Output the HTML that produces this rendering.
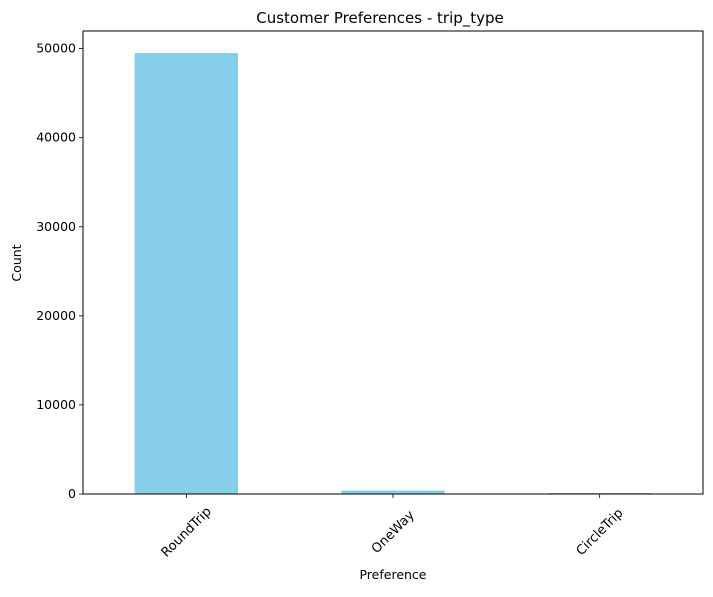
<!DOCTYPE html>
<html><head><meta charset="utf-8"><style>
body{margin:0;background:#fff;}
svg text{font-family:"DejaVu Sans","Liberation Sans",sans-serif;fill:#000;}
</style></head><body>
<svg id="chart" width="713" height="592" xmlns="http://www.w3.org/2000/svg">
<rect width="713" height="592" fill="#fff"/>
<text x="380" y="23" font-size="15" text-anchor="middle">Customer Preferences - trip_type</text>
<g id="bars"></g><g id="axes"></g>
<text x="393" y="579" font-size="12.5" text-anchor="middle">Preference</text>
<text x="0" y="0" font-size="12.5" text-anchor="middle" transform="translate(21,263) rotate(-90)">Count</text>
</svg>
<script>
const categories=["RoundTrip","OneWay","CircleTrip"];
const counts=[49500,390,110];
const yTicks=[0,10000,20000,30000,40000,50000];
const L=83,R=703,T=31,B=494,yMax=51975;
const ns="http://www.w3.org/2000/svg";
const step=(R-L)/categories.length;
const x=i=>L+step*(i+0.5);
const y=v=>B-(v/yMax)*(B-T);
function mk(tag,attrs,parent){const e=document.createElementNS(ns,tag);for(const k in attrs)e.setAttribute(k,attrs[k]);parent.appendChild(e);return e;}
const bars=document.getElementById('bars'),axes=document.getElementById('axes');
categories.forEach((c,i)=>{
 const r=mk('rect',{x:x(i)-step/4,y:y(counts[i]),width:step/2,height:B-y(counts[i]),fill:'#87ceeb'},bars);
 
 
 mk('line',{x1:x(i),x2:x(i),y1:B,y2:B+4,stroke:'#000','stroke-width':0.8},axes);
 const t=mk('text',{x:0,y:4,'font-size':13,'text-anchor':'middle',transform:`translate(${x(i)},${B+38}) rotate(-45)`},axes);
 t.textContent=c;
 
 
});
yTicks.forEach(v=>{
 mk('line',{x1:L-4,x2:L,y1:y(v),y2:y(v),stroke:'#000','stroke-width':0.8},axes);
 const t=mk('text',{x:L-7,y:y(v)+4,'font-size':12.5,'text-anchor':'end'},axes);
 t.textContent=v;
 
 
});
const f=mk('rect',{x:L,y:T,width:R-L,height:B-T,fill:'none',stroke:'#000','stroke-width':1},axes);


</script>
</body></html>
